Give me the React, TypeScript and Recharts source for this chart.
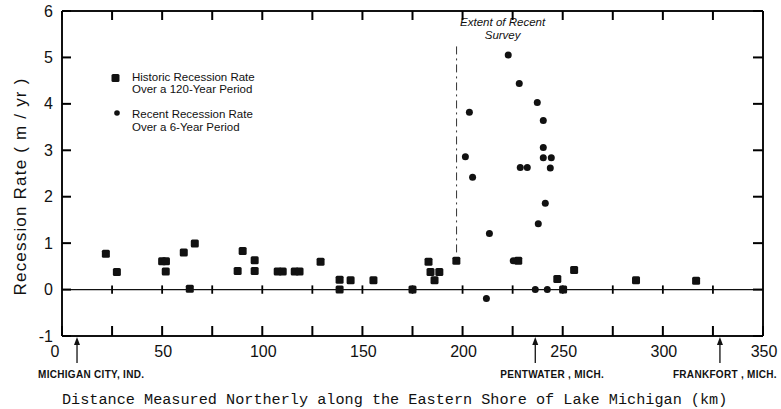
import React from 'react';
import { ScatterChart, Scatter, XAxis, YAxis, ReferenceLine, ReferenceDot, Legend } from 'recharts';

// Historic recession rate (120-year period): distance km / rate m/yr
const historicKm = [21.9, 27.4, 50.0, 51.9, 51.8, 60.8, 63.8, 66.3, 87.7, 90.2, 96.2, 96.2, 107.7, 110.2, 116.2, 118.6, 129.1, 138.6, 138.6, 144.1, 155.5, 175.0, 183.0, 184.0, 188.4, 186.0, 196.9, 227.8, 247.3, 250.2, 255.7, 286.6, 316.6];
const historicRate = [0.77, 0.38, 0.61, 0.61, 0.39, 0.80, 0.02, 0.99, 0.40, 0.83, 0.63, 0.40, 0.39, 0.39, 0.39, 0.39, 0.60, 0.21, 0.0, 0.20, 0.20, 0.0, 0.60, 0.38, 0.38, 0.20, 0.62, 0.62, 0.23, 0.0, 0.42, 0.20, 0.19];

// Recent recession rate (6-year period)
const recentKm = [222.8, 228.3, 237.3, 240.3, 203.4, 240.3, 201.4, 240.3, 244.3, 243.8, 228.8, 232.3, 205.0, 241.3, 237.8, 213.4, 225.3, 236.3, 242.3, 211.9];
const recentRate = [5.05, 4.44, 4.03, 3.64, 3.82, 3.06, 2.86, 2.84, 2.84, 2.62, 2.63, 2.63, 2.42, 1.86, 1.42, 1.21, 0.62, 0.0, 0.0, -0.19];

const xTicks = [0, 25, 50, 75, 100, 125, 150, 175, 200, 225, 250, 275, 300, 325, 350];
const yTicks = [-1, 0, 1, 2, 3, 4, 5, 6];
const placeKm = [7.5, 236.3, 328.5];
const placeNames = ['MICHIGAN CITY, IND.', 'PENTWATER , MICH.', 'FRANKFORT , MICH.'];
const legendLabels = [
  ['Historic Recession Rate', 'Over a 120-Year Period'],
  ['Recent Recession Rate', 'Over a 6-Year Period'],
];
const surveyLabel = ['Extent of Recent', 'Survey'];
const xTitle = 'Distance Measured Northerly along the Eastern Shore of Lake Michigan (km)';
const yTitle = 'Recession Rate ( m / yr )';

const historic = historicKm.map((x, i) => ({ x, y: historicRate[i] }));
const recent = recentKm.map((x, i) => ({ x, y: recentRate[i] }));

const INK = '#111';
const FONT = '"Liberation Sans", Arial, sans-serif';

const Square = (p: any) => (
  <rect x={p.cx - 4} y={p.cy - 4} width={8} height={8} rx={1.5} fill={INK} />
);
const Dot = (p: any) => <circle cx={p.cx} cy={p.cy} r={3.5} fill={INK} />;
const NoShape = () => <g />;

const BottomTick = (p: any) => {
  const v = p.payload.value;
  return (
    <g>
      <line x1={p.x} x2={p.x} y1={p.y} y2={p.y - 10} stroke="#000" strokeWidth={2} />
      {v % 50 === 0 && (
        <text x={p.x + (v === 0 ? -7 : 1)} y={p.y + 15} textAnchor="middle" dominantBaseline="central"
          fontSize={16} fontFamily={FONT} fill={INK}>{v}</text>
      )}
    </g>
  );
};
const TopTick = (p: any) => (
  <line x1={p.x} x2={p.x} y1={p.y} y2={p.y + 9} stroke="#000" strokeWidth={2} />
);
const LeftTick = (p: any) => (
  <g>
    <line x1={p.x} x2={p.x + 9} y1={p.y} y2={p.y} stroke="#000" strokeWidth={2} />
    <text x={p.x - 9} y={p.y} textAnchor="end" dominantBaseline="central" fontSize={16}
      fontFamily={FONT} fill={INK}>{p.payload.value}</text>
  </g>
);
const RightTick = (p: any) => (
  <line x1={p.x} x2={p.x - 10} y1={p.y} y2={p.y} stroke="#000" strokeWidth={2} />
);
const PLACE_DX = [-39, -35, -47];
const PlaceTick = (p: any) => {
  const i = placeKm.indexOf(p.payload.value);
  const y = p.y - 1;
  return (
    <g>
      <line x1={p.x} x2={p.x} y1={y + 6} y2={y + 27} stroke={INK} strokeWidth={1.3} />
      <polygon points={`${p.x},${y + 1} ${p.x - 3},${y + 9} ${p.x + 3},${y + 9}`} fill={INK} />
      <text x={p.x + PLACE_DX[i]} y={y + 38} dominantBaseline="central" fontSize={10}
        fontWeight="bold" fontFamily={FONT} fill={INK} letterSpacing={0.3}>{placeNames[i]}</text>
    </g>
  );
};

const LegendContent = () => (
  <svg width={190} height={70} style={{ display: 'block' }}>
    <rect x={7.5} y={8} width={8} height={8} rx={1.5} fill={INK} />
    <text x={28} y={11} dominantBaseline="central" fontSize={11.5} fontFamily={FONT} fill={INK}>{legendLabels[0][0]}</text>
    <text x={28} y={23} dominantBaseline="central" fontSize={11.5} fontFamily={FONT} fill={INK}>{legendLabels[0][1]}</text>
    <circle cx={13} cy={47} r={2.8} fill={INK} />
    <text x={28} y={48} dominantBaseline="central" fontSize={11.5} fontFamily={FONT} fill={INK}>{legendLabels[1][0]}</text>
    <text x={28} y={61} dominantBaseline="central" fontSize={11.5} fontFamily={FONT} fill={INK}>{legendLabels[1][1]}</text>
  </svg>
);

export default function App() {
  return (
    <div style={{ position: 'absolute', left: 0, top: 0, width: 781, height: 409, background: '#fff' }}>
      <ScatterChart width={781} height={409} margin={{ top: 10, right: 17, bottom: 71, left: 0 }}>
        <XAxis dataKey="x" type="number" domain={[0, 350]} ticks={xTicks} interval={0} height={1}
          tickSize={0} tickMargin={0} tickLine={false} tick={BottomTick}
          axisLine={{ stroke: INK, strokeWidth: 2 }} />
        <XAxis xAxisId="places" dataKey="x" type="number" domain={[0, 350]} ticks={placeKm} interval={0} height={1}
          tickSize={0} tickMargin={0} tickLine={false} axisLine={false} tick={PlaceTick}
          label={{
            content: (lp: any) => (
              <text x={62} y={lp.viewBox.y + 63} dominantBaseline="central" fontSize={15.2}
                fontFamily='"Liberation Mono", "DejaVu Sans Mono", monospace' fill={INK}>{xTitle}</text>
            ),
          }} />
        <XAxis xAxisId="top" dataKey="x" orientation="top" type="number" domain={[0, 350]} ticks={xTicks} interval={0}
          height={1} tickSize={0} tickMargin={0} tickLine={false} tick={TopTick}
          axisLine={{ stroke: INK, strokeWidth: 2 }} />
        <YAxis dataKey="y" type="number" domain={[-1, 6]} ticks={yTicks} interval={0} width={62}
          tickSize={0} tickMargin={0} tickLine={false} tick={LeftTick}
          axisLine={{ stroke: INK, strokeWidth: 2 }}
          label={{
            content: (lp: any) => {
              const cx = lp.viewBox.x + 20;
              const cy = lp.viewBox.y + lp.viewBox.height / 2 + 13;
              return (
                <text x={cx} y={cy} transform={`rotate(-90 ${cx} ${cy})`} textAnchor="middle"
                  dominantBaseline="central" fontSize={17} letterSpacing={1.2} fontFamily={FONT} fill={INK}>{yTitle}</text>
              );
            },
          }} />
        <YAxis yAxisId="right" dataKey="y" orientation="right" type="number" domain={[-1, 6]} ticks={yTicks} interval={0}
          width={1} tickSize={0} tickMargin={0} tickLine={false} tick={RightTick}
          axisLine={{ stroke: INK, strokeWidth: 2 }} />
        <ReferenceLine y={0} stroke={INK} strokeWidth={1.3} />
        {xTicks.slice(1, -1).map((t) => (
          <ReferenceLine key={t} segment={[{ x: t, y: -0.09 }, { x: t, y: 0.09 }]} stroke="#000" strokeWidth={1.8} />
        ))}
        <ReferenceLine segment={[{ x: 197, y: 0.8 }, { x: 197, y: 5.25 }]} stroke="#333" strokeWidth={1}
          strokeDasharray="8 4 2 4" />
        <ReferenceDot x={220} y={5.74} r={0} fill="none" stroke="none"
          label={{
            content: (lp: any) => {
              const cx = lp.viewBox.x + lp.viewBox.width / 2;
              const cy = lp.viewBox.y + lp.viewBox.height / 2;
              return (
                <g>
                  <text x={cx} y={cy - 1} textAnchor="middle" dominantBaseline="central" fontSize={11.5}
                    fontStyle="italic" fontFamily={FONT} fill={INK}>{surveyLabel[0]}</text>
                  <text x={cx} y={cy + 12} textAnchor="middle" dominantBaseline="central" fontSize={11.5}
                    fontStyle="italic" fontFamily={FONT} fill={INK}>{surveyLabel[1]}</text>
                </g>
              );
            },
          }} />
        <Scatter name="historic" data={historic} shape={Square} isAnimationActive={false} />
        <Scatter name="recent" data={recent} shape={Dot} isAnimationActive={false} />
        <Scatter name="frame-top" data={historic} xAxisId="top" yAxisId="right" shape={NoShape} legendType="none" isAnimationActive={false} />
        <Scatter name="frame-places" data={historic} xAxisId="places" shape={NoShape} legendType="none" isAnimationActive={false} />
        <Legend layout="vertical" align="center" verticalAlign="middle" content={LegendContent}
          wrapperStyle={{ position: 'absolute', left: 104, top: 66, width: 190, height: 70 }} />
      </ScatterChart>
    </div>
  );
}
